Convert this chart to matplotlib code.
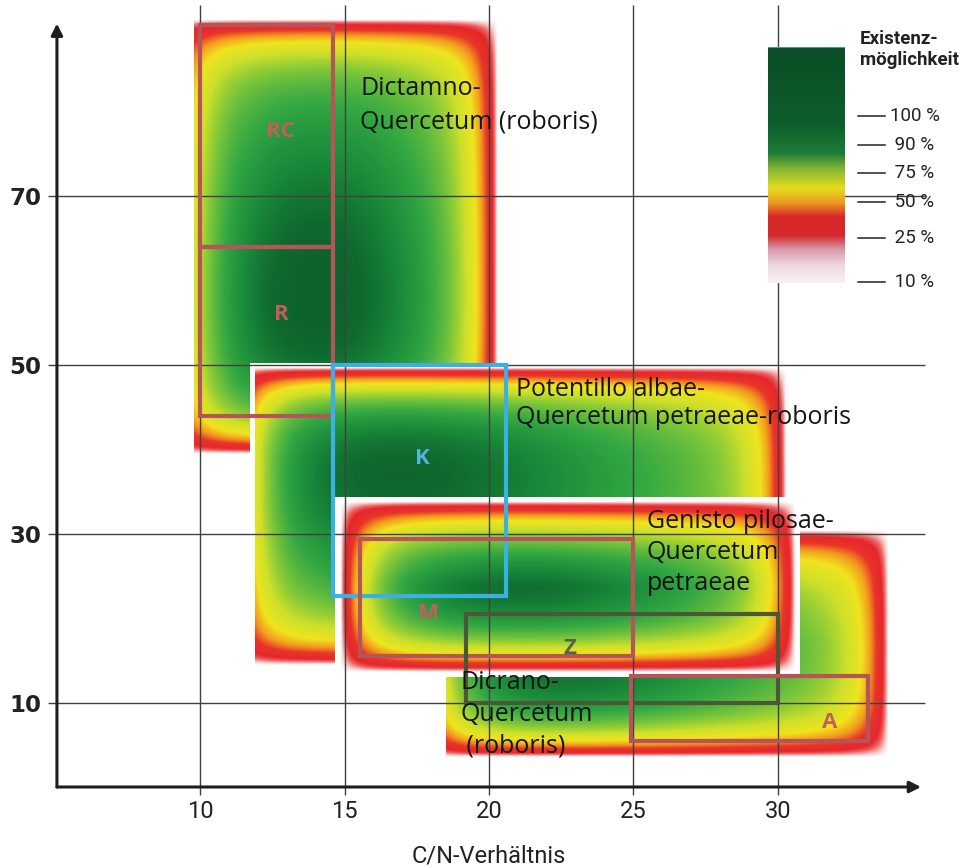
import numpy as np
import matplotlib.pyplot as plt
from matplotlib.colors import LinearSegmentedColormap
from matplotlib.patches import Rectangle

# Waldgesellschaften: Ausdehnung im C/N- und Basen-Raum, Optimum
gesellschaft = ['Dictamno', 'Potentillo', 'Dicrano', 'Genisto']
cn_von = [9.8, 11.9, 18.5, 14.85]
cn_bis = [20.3, 30.3, 33.8, 30.6]
basen_von = [39.4, 14.4, 3.5, 13.6]
basen_bis = [90.8, 49.6, 30.3, 33.8]
# wie weit die Verteilung links ueber den sichtbaren Rand hinausreicht
cn_links_offen = [0.8, 0.7, 0.8, 0.0]
opt_cn = [13.8, 16.5, 22.0, 21.0]
opt_basen = [57.0, 40.0, 11.0, 22.0]

namen = ['Dictamno-\nQuercetum (roboris)',
         'Potentillo albae-\nQuercetum petraeae-roboris',
         'Dicrano-\nQuercetum\n (roboris)',
         'Genisto pilosae-\nQuercetum\npetraeae']
namen_x = [15.55, 20.93, 19.0, 25.45]
namen_y = [84.2, 48.6, 13.8, 32.9]
zeilenabstand = [1.45, 1.18, 1.34, 1.3]

# Standorttypen (Rahmen)
kuerzel = ['RC', 'R', 'K', 'M', 'Z', 'A']
box_cn_von = [10.0, 10.0, 14.6, 15.55, 19.2, 24.9]
box_cn_bis = [14.6, 14.6, 20.6, 25.0, 30.0, 33.1]
box_basen_von = [64.0, 43.9, 22.6, 15.5, 9.9, 5.4]
box_basen_bis = [90.2, 64.0, 50.0, 29.4, 20.5, 13.2]
box_farbe = ['#b5555a', '#b5555a', '#3cb0e2', '#b5555a', '#4a5838', '#b5555a']
text_farbe = ['#c25f5a', '#c25f5a', '#55b4de', '#c25f5a', '#56624a', '#c25f5a']
lab_x = [12.8, 12.8, 17.7, 17.9, 22.8, 31.8]
lab_y = [77.6, 55.9, 38.9, 20.6, 16.4, 7.6]

x_ticks = [10, 15, 20, 25, 30]
y_ticks = [10, 30, 50, 70]

legende_text = ['100 %', ' 90 %', ' 75 %', ' 50 %', ' 25 %', ' 10 %']
legende_y = [116, 145, 173, 202, 238, 282]

stufen = LinearSegmentedColormap.from_list('existenz', [
    (0.00, '#ffffff'), (0.03, '#f8d2d2'), (0.08, '#ee6262'),
    (0.13, '#e6262b'), (0.24, '#e8352a'), (0.33, '#f39a1e'),
    (0.43, '#f0e41e'), (0.55, '#cde02a'), (0.67, '#7cc63a'),
    (0.79, '#34a843'), (0.89, '#1a8a3a'), (0.96, '#0f6a30'),
    (1.00, '#0d5f2c')])

W, H = 967, 868
fig = plt.figure(figsize=(W / 100, H / 100), dpi=100)
ax_l, ax_r, ax_t, ax_b = 55.5, 922.5, 5, 787
ax = fig.add_axes([ax_l / W, 1 - ax_b / H, (ax_r - ax_l) / W, (ax_b - ax_t) / H])
ax.set_xlim(5, 35)
ax.set_ylim(0, 92.6)
sx = (ax_r - ax_l) / 30.0
sy = (ax_b - ax_t) / 92.6


def feld(x0, x1, y0, y1, offen, ox, oy):
    X, Y = np.meshgrid(np.linspace(x0, x1, 500), np.linspace(y0, y1, 500))
    dx = np.minimum(X - (x0 - offen), x1 - X) * sx
    dy = np.minimum(Y - y0, y1 - Y) * sy
    rand = (1 - np.exp(-dx / 27)) * (1 - np.exp(-dy / 27))
    bx = 0.55 * (x1 - x0 + offen) * sx
    by = 0.6 * (y1 - y0) * sy
    opt = np.exp(-(((X - ox) * sx / bx) ** 2 + ((Y - oy) * sy / by) ** 2))
    return rand * (0.62 + 0.38 * opt)


for i in range(len(gesellschaft)):
    x0, x1, y0, y1 = cn_von[i], cn_bis[i], basen_von[i], basen_bis[i]
    m = 5
    ax.add_patch(Rectangle((x0 - m / sx, y0 - m / sy), x1 - x0 + 2 * m / sx,
                           y1 - y0 + 2 * m / sy, facecolor='white',
                           edgecolor='none', zorder=1 + 2 * i))
    ax.imshow(feld(x0, x1, y0, y1, cn_links_offen[i], opt_cn[i], opt_basen[i]),
              cmap=stufen, vmin=0, vmax=1, origin='lower',
              extent=(x0, x1, y0, y1), aspect='auto',
              interpolation='bilinear', zorder=2 + 2 * i)

# Gitter
ax.vlines(x_ticks, -0.9, 92.6, color='#404040', lw=1.0, zorder=20, clip_on=False)
ax.hlines(y_ticks, 4.75, 35.1, color='#404040', lw=1.0, zorder=20, clip_on=False)

for i in range(len(kuerzel)):
    ax.add_patch(Rectangle((box_cn_von[i], box_basen_von[i]),
                           box_cn_bis[i] - box_cn_von[i],
                           box_basen_bis[i] - box_basen_von[i],
                           fill=False, edgecolor=box_farbe[i], lw=3, zorder=25))
    ax.text(lab_x[i], lab_y[i], kuerzel[i], color=text_farbe[i], fontsize=16,
            fontweight='bold', ha='center', va='center', family='Open Sans',
            zorder=26)

for i in range(len(namen)):
    ax.text(namen_x[i], namen_y[i], namen[i], fontsize=18, color='#151515',
            family='Open Sans', ha='left', va='top',
            linespacing=zeilenabstand[i], zorder=27)

# Achsen mit Pfeilen
for s in ax.spines.values():
    s.set_visible(False)
pfeil = dict(arrowstyle='-|>', lw=2.2, color='#1e1e1e', mutation_scale=17,
             shrinkA=0, shrinkB=0)
ax.annotate('', xy=(34.95, 0), xytext=(5.05, 0), annotation_clip=False,
            arrowprops=pfeil, zorder=30)
ax.annotate('', xy=(5.05, 90.4), xytext=(5.05, 0), annotation_clip=False,
            arrowprops=pfeil, zorder=30)

ax.set_xticks(x_ticks)
ax.set_xticklabels([str(v) for v in x_ticks], family='Roboto',
                   fontsize=17, color='#222222')
ax.set_yticks(y_ticks)
ax.set_yticklabels([str(v) for v in y_ticks], family='DejaVu Sans',
                   fontsize=16.5, fontweight='bold', color='#222222')
ax.tick_params(axis='x', length=0, pad=9)
ax.tick_params(axis='y', length=0, pad=10)
fig.text(489 / W, 1 - 856 / H, 'C/N-Verhältnis', family='Roboto', fontsize=17,
         color='#222222', ha='center', va='center')

# Legende
lax = fig.add_axes([768 / W, 1 - 283 / H, 77 / W, 236 / H])
leg = LinearSegmentedColormap.from_list('leg', [
    (0.00, '#0b4c25'), (0.33, '#0e5e2c'), (0.45, '#1d7d36'),
    (0.52, '#8bb733'), (0.60, '#e6dc1e'), (0.66, '#e99a20'),
    (0.72, '#d9262a'), (0.80, '#d32a2c'), (0.86, '#d99aab'),
    (0.93, '#efdbe3'), (1.00, '#f7f1f3')])
lax.imshow(np.linspace(0, 1, 256)[:, None], cmap=leg, aspect='auto',
           extent=(0, 1, 0, 1))
lax.axhline(1, color='#4a8fc0', lw=1.5)
lax.set_axis_off()

fig.text(860 / W, 1 - 30 / H, 'Existenz-\nmöglichkeit', fontsize=13.5,
         fontweight='bold', family='Roboto', color='#222222', va='top',
         linespacing=1.2)
for t, yy in zip(legende_text, legende_y):
    fig.add_artist(plt.Line2D([858 / W, 885 / W], [1 - yy / H, 1 - yy / H],
                              color='#222222', lw=1.1))
    fig.text(890 / W, 1 - yy / H, t, fontsize=13.5, family='Roboto',
             color='#222222', va='center')

fig.savefig('out.png', dpi=100)
